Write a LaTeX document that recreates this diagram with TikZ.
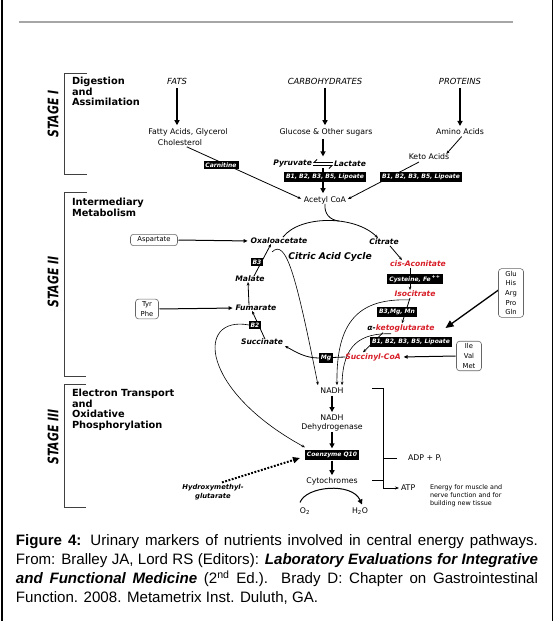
\documentclass[tikz,border=0pt]{standalone}
\usepackage{fontspec}
\usepackage{graphicx}
\setmainfont{Liberation Sans}
\newfontfamily\djf{DejaVu Sans}
\usetikzlibrary{arrows.meta}
\definecolor{cred}{RGB}{215,30,40}
\pgfdeclarelayer{bg}
\pgfsetlayers{bg,main}
\tikzset{
 every node/.style={inner sep=0pt, outer sep=0pt},
 txt/.style={font=\djf\fontsize{7.8}{8.6}\selectfont, align=center},
 capt/.style={font=\djf\itshape\fontsize{8.4}{9}\selectfont},
 bi/.style={font=\djf\bfseries\itshape\fontsize{7.6}{8}\selectfont},
 rd/.style={bi, text=cred},
 hdr/.style={font=\djf\bfseries\fontsize{9.8}{10.6}\selectfont, align=left, anchor=north west},
 stg/.style={font=\djf\bfseries\itshape\fontsize{14.5}{14}\selectfont, rotate=90},
 blk/.style={fill=black, text=white, font=\djf\bfseries\itshape\fontsize{6}{6.5}\selectfont, inner xsep=2pt, inner ysep=1.8pt},
 rbox/.style={draw=black!60, rounded corners=3pt, line width=0.6pt, font=\djf\fontsize{6.8}{9.6}\selectfont, align=center, inner xsep=3pt, inner ysep=2.5pt},
 brk/.style={draw=black!75, line width=0.7pt},
 fat/.style={line width=1.6pt, -{Triangle[length=5pt,width=5pt]}},
 med/.style={line width=1pt, -{Triangle[length=4pt,width=3.5pt]}},
 thn/.style={line width=0.6pt, -{Stealth[length=3.5pt,width=2.8pt]}},
}
\begin{document}
\begin{tikzpicture}[x=1pt,y=-1pt]
\useasboundingbox (0,0) rectangle (555,621);
% frame
\draw[line width=1.4pt] (2,0) -- (2,621);
\draw[line width=1.0pt] (552.5,0) -- (552.5,621);
\draw[line width=1.5pt, black!35] (19,22) -- (513,22);
% stage brackets
\draw[brk] (87,73) -- (64,73) -- (64,174) -- (87,174);
\draw[brk] (87,192) -- (64,192) -- (64,376) -- (86,376);
\draw[brk] (86,384) -- (64,384) -- (64,507) -- (86,507);
\node[stg] (st1) at (53,114) {\scalebox{0.75}[1]{STAGE I}};
\node[stg] (st2) at (53,282) {\scalebox{0.75}[1]{STAGE II}};
\node[stg] (st3) at (53,437) {\scalebox{0.75}[1]{STAGE III}};
\node[hdr] (h1) at (72,77) {Digestion\\and\\Assimilation};
\node[hdr] (h2) at (72,198) {Intermediary\\Metabolism};
\node[hdr] (h3) at (72,389) {Electron Transport\\and\\Oxidative\\Phosphorylation};
% stage I
\node[capt] (fats) at (177,81) {FATS};
\node[capt] (carb) at (325,81) {CARBOHYDRATES};
\node[capt] (prot) at (460,81) {PROTEINS};
\node[txt] (fa) at (188,132) {Fatty Acids, Glycerol};
\node[txt] (chol) at (180,143) {Cholesterol};
\node[txt] (glu) at (326,132) {Glucose \& Other sugars};
\node[txt] (amino) at (460,132) {Amino Acids};
\node[bi, anchor=east] (pyr) at (312,164) {Pyruvate};
\node[bi, anchor=west] (lac) at (334,164) {Lactate};
\coordinate (eq) at (323,168);
\node[txt] (keto) at (429,157) {Keto Acids};
\node[blk] (carn) at (221,165) {Carnitine};
\node[blk] (bx1) at (325,177) {B1, B2, B3, B5, Lipoate};
\node[blk] (bx2) at (421,177) {B1, B2, B3, B5, Lipoate};
\node[txt] (acoa) at (325,200) {Acetyl CoA};
% stage II
\node[rbox, minimum width=47pt] (asp) at (154,240) {Aspartate};
\node[bi] (oxa) at (279,241) {Oxaloacetate};
\node[bi] (cit) at (384,242) {Citrate};
\node[font=\djf\bfseries\itshape\fontsize{9.2}{10}\selectfont] (cac) at (330,257) {Citric Acid Cycle};
\node[rd] (cis) at (418,264) {cis-Aconitate};
\node[blk] (cys) at (415,279) {Cysteine, Fe\,\textsuperscript{++}};
\node[rd] (iso) at (415,294) {Isocitrate};
\node[blk] (bmm) at (397,312) {B3,Mg, Mn};
\node[bi] (akg) at (401,328) {α-\textcolor{cred}{ketoglutarate}};
\node[blk] (bx3) at (411,342) {B1, B2, B3, B5, Lipoate};
\node[rd] (sca) at (373,357) {Succinyl-CoA};
\node[blk] (mg) at (326,358) {Mg};
\node[bi] (suc) at (262,342) {Succinate};
\node[blk, inner xsep=1.5pt] (b2) at (255,325) {B2};
\node[bi] (fum) at (256,308) {Fumarate};
\node[bi] (mal) at (250,279) {Malate};
\node[blk, inner xsep=1.5pt] (b3) at (257,262) {B3};
\node[rbox, minimum width=23pt] (tyr) at (147,309) {Tyr\\Phe};
\node[rbox, minimum width=25pt] (gbox) at (511,293) {Glu\\His\\Arg\\Pro\\Gln};
\node[rbox, minimum width=25pt] (ibox) at (469,356) {Ile\\Val\\Met};
\coordinate (mrg) at (339,221);
\coordinate (c1s) at (272,252);
% stage III
\node[txt] (nadh) at (332,391) {NADH};
\node[txt] (ndh) at (332,423) {NADH\\Dehydrogenase};
\node[blk] (coq) at (332,455) {Coenzyme Q10};
\node[txt] (cyt) at (332,481) {Cytochromes};
\node[txt] (o2) at (305,511) {O\textsubscript{2}};
\node[txt] (h2o) at (360,511) {H\textsubscript{2}O};
\node[txt, anchor=west] (adp) at (408,458) {ADP + P\textsubscript{i}};
\node[txt, anchor=west] (atp) at (401,488) {ATP};
\node[font=\djf\fontsize{6.4}{8}\selectfont, anchor=west, align=left] (energy) at (430,496) {Energy for muscle and\\nerve function and for\\building new tissue};
\node[bi, font=\djf\bfseries\itshape\fontsize{6.8}{8.6}\selectfont, align=center] (hmg) at (213,492) {Hydroxymethyl-\\glutarate};
\coordinate (k1) at (372,388);
\coordinate (k2) at (383,388);
\coordinate (k3) at (383,488);
\coordinate (k4) at (372,480);
\coordinate (k5) at (383,480);
\coordinate (k6) at (383,458);
% caption
\node[anchor=north west, text width=522pt, align=justify, font=\fontsize{15.1}{19}\selectfont] (caption) at (16,534.5) {\textbf{Figure 4:} Urinary markers of nutrients involved in central energy pathways.\linebreak From: Bralley JA, Lord RS (Editors): \textbf{\textit{Laboratory Evaluations for Integrative}}\linebreak \textbf{\textit{and Functional Medicine}} (2\textsuperscript{nd} Ed.). Brady D: Chapter on Gastrointestinal\linebreak Function. 2008. Metametrix Inst. Duluth, GA.};

\begin{pgfonlayer}{bg}
% stage I arrows
\draw[fat, shorten <=4pt, shorten >=3pt] (fats.south) -- (fats.south |- fa.north);
\draw[fat, shorten <=4pt, shorten >=3pt] (carb.south) -- (carb.south |- glu.north);
\draw[fat, shorten <=4pt, shorten >=3pt] (prot.south) -- (prot.south |- amino.north);
\draw[fat, shorten <=3pt, shorten >=4pt] (glu.south -| eq) -- (eq |- pyr.north);
\draw[line width=0.9pt, -{Straight Barb[right,length=3pt]}, shorten >=1pt, shorten <=1pt] ([yshift=1.6pt]lac.west) -- ([yshift=1.6pt]pyr.east);
\draw[line width=0.9pt, -{Straight Barb[right,length=3pt]}, shorten >=1pt, shorten <=1pt] ([yshift=-1.6pt]pyr.east) -- ([yshift=-1.6pt]lac.west);
\draw[fat, shorten >=3pt] (eq) -- (eq |- acoa.north);
\draw[thn, line width=0.8pt, shorten <=2pt] ([xshift=3pt]amino.south) -- ([xshift=-3pt]keto.north east);
\draw[thn, line width=0.8pt, shorten >=2pt] ([xshift=-10pt,yshift=-2pt]keto.south) -- (acoa.east);
\draw[thn, line width=0.8pt, shorten <=2pt, shorten >=3pt] ([xshift=5pt]chol.south) -- (acoa.west);
% stage II arrows
\draw[med, shorten <=1pt, shorten >=3pt] (asp.east) -- (oxa.west);
\draw[med, shorten <=1pt, shorten >=3pt] (tyr.east) -- (fum.west);
\draw[line width=1.3pt, -{Triangle[length=8pt,width=7pt]}] ([yshift=3pt]gbox.west) -- ([xshift=11pt]akg.east);
\draw[med, shorten <=1pt, shorten >=3pt] (ibox.west) -- (sca.east);
\draw[thn, line width=0.8pt] ([xshift=4pt,yshift=1pt]oxa.north) .. controls (300,215) and (355,215) .. ([xshift=-6pt,yshift=1pt]cit.north);
\draw[line width=0.8pt] (acoa.south) .. controls (324,214) and (330,220) .. (mrg);
\draw[thn, line width=0.8pt] ([xshift=6pt,yshift=-1pt]cit.south) -- ([xshift=-16pt,yshift=1pt]cis.north);
\draw[thn, line width=0.8pt] ([xshift=-8pt,yshift=-1pt]cis.south) -- ([xshift=-5pt,yshift=1pt]iso.north);
\draw[thn, line width=0.8pt] ([xshift=-5pt,yshift=-1pt]iso.south) -- ([xshift=1pt,yshift=1pt]akg.north);
\draw[thn, line width=0.8pt] ([xshift=-18pt,yshift=-1pt]akg.south) -- ([xshift=-10pt,yshift=1pt]sca.north);
\draw[thn, line width=0.8pt] (sca.west) -- (mg.west) .. controls (305,358) and (296,352) .. ([xshift=2pt,yshift=-4pt]suc.east);
\draw[thn, line width=0.8pt] ([xshift=3pt]suc.north) -- ([xshift=-4pt]fum.south);
\draw[thn, line width=0.8pt] ([xshift=-7pt]fum.north) -- ([xshift=-2pt]mal.south);
\draw[thn, line width=0.8pt] ([xshift=4pt]mal.north) -- ([xshift=-8pt]oxa.south);
% curves to NADH and CoQ10
\draw[thn] (c1s) .. controls (286,238) and (296,275) .. ([xshift=-14pt,yshift=3pt]nadh.north);
\draw[thn] ([xshift=-5pt,yshift=-3pt]iso.south) .. controls (360,298) and (336,320) .. ([xshift=5pt,yshift=3pt]nadh.north);
\draw[thn] ([xshift=-10pt,yshift=-2pt]akg.south) .. controls (360,333) and (343,345) .. ([xshift=10pt,yshift=3pt]nadh.north);
\draw[thn] (b2.west) .. controls (195,315) and (200,390) .. ([yshift=3pt]coq.north west);
% stage III
\draw[fat, line width=1.3pt, shorten <=2pt, shorten >=3pt] (nadh.south) -- (ndh.north);
\draw[fat, line width=1.3pt, shorten <=1pt, shorten >=2pt] (ndh.south) -- (coq.north);
\draw[fat, line width=1.3pt, shorten <=1pt, shorten >=2pt] (coq.south) -- (cyt.north);
\draw[line width=1pt, -{Triangle[length=5pt,width=5pt]}] ([xshift=-5pt,yshift=5pt]o2.north) .. controls (306,486) and (352,482) .. ([xshift=2pt,yshift=3pt]h2o.north);
\draw[line width=0.6pt] (k1) -- (k2) -- (k3);
\draw[line width=0.6pt, -{Stealth[length=4pt,width=3pt]}] (k3) -- ([xshift=-2pt]atp.west);
\draw[line width=0.6pt] (k4) -- (k5);
\draw[line width=0.6pt] (k6) -- ([xshift=-11pt]adp.west);
\draw[line width=2pt, dash pattern=on 1.8pt off 1.6pt, -{Triangle[length=7pt,width=6pt]}] ([xshift=9pt,yshift=2pt]hmg.north) -- ([xshift=-5pt,yshift=-3pt]coq.west);
\end{pgfonlayer}
\end{tikzpicture}
\end{document}
